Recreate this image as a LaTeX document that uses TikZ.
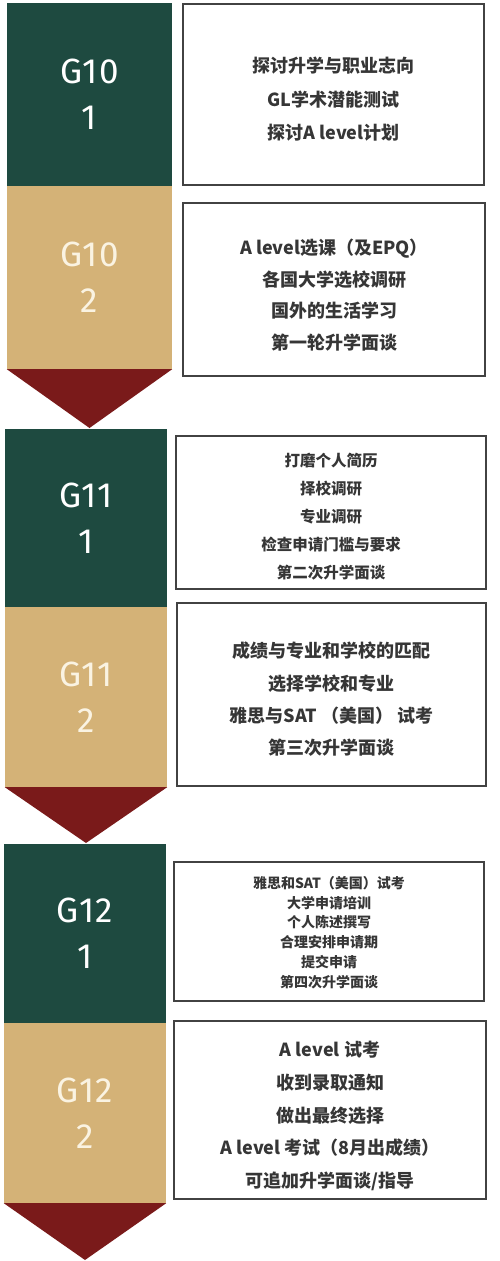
\documentclass[tikz,border=0pt]{standalone}
\usepackage{fontspec}
\setmainfont{Noto Sans CJK SC}
\newfontfamily\gradefont[LetterSpace=4]{Fira Sans}
\definecolor{termgreen}{HTML}{1E4A40}
\definecolor{termtan}{HTML}{D4B277}
\definecolor{arrowred}{HTML}{7A1A1A}
\definecolor{boxline}{HTML}{424242}
\definecolor{boxtext}{HTML}{363636}
\definecolor{cream}{HTML}{FAF3E2}

\begin{document}
\begin{tikzpicture}[x=1pt,y=-1pt]
			\tikzstyle{grade} = [rectangle,inner sep=0pt,minimum width=164pt,minimum height=181pt,align=center,font=\gradefont\fontsize{35}{46}\selectfont]
			\tikzstyle{first}  = [grade,fill=termgreen,text=white]
			\tikzstyle{second} = [grade,fill=termtan,text=cream]
			\tikzstyle{task} = [rectangle,draw=boxline,line width=2.5pt,inner sep=0pt]
			\tikzstyle{tasktext} = [inner sep=0pt,align=center,text=boxtext,font=\bfseries\fontsize{18}{33}\selectfont]
			\tikzstyle{tip} = [fill=arrowred]
			
			\useasboundingbox (0,0) rectangle (500,1261);
			
			\node[first,minimum width=165pt,minimum height=183pt] (g10a) at (89.5,94.5) {G10\\1};
			\node[second,minimum width=165pt,minimum height=183pt] (g10b) at (89.5,277.5) {G10\\2};
			\coordinate (tip10) at (89.5,428);
			
			\node[task,minimum width=301pt,minimum height=181pt] (plan10a) at (333.5,94.5) {};
			\node[tasktext,font=\bfseries\fontsize{18}{33.5}\selectfont] (plan10atext) at ([yshift=-5pt]plan10a.center) {探讨升学与职业志向\\GL学术潜能测试\\探讨A level计划};
			\node[task,minimum width=302pt,minimum height=173pt] (plan10b) at (334,289.5) {};
			\node[tasktext,font=\bfseries\fontsize{18}{31.7}\selectfont] (plan10btext) at ([yshift=-5.5pt]plan10b.center) {A level选课（及EPQ）\\各国大学选校调研\\国外的生活学习\\第一轮升学面谈};
			
			
			\node[first,minimum width=162pt,minimum height=178pt] (g11a) at (86,518) {G11\\1};
			\node[second,minimum width=162pt,minimum height=180pt] (g11b) at (86,697) {G11\\2};
			\coordinate (tip11) at (86,843);
			
			\node[task,minimum width=310pt,minimum height=153pt] (plan11a) at (331,512.5) {};
			\node[tasktext,font=\bfseries\fontsize{15.5}{28}\selectfont] (plan11atext) at ([yshift=-4pt]plan11a.center) {打磨个人简历\\择校调研\\专业调研\\检查申请门槛与要求\\第二次升学面谈};
			\node[task,minimum width=309pt,minimum height=183pt] (plan11b) at (331.5,694.5) {};
			\node[tasktext,font=\bfseries\fontsize{18}{32.3}\selectfont] (plan11btext) at ([yshift=-5pt]plan11b.center) {成绩与专业和学校的匹配\\选择学校和专业\\雅思与SAT （美国） 试考\\第三次升学面谈};
			
			
			\node[first,minimum width=162pt,minimum height=179pt] (g12a) at (85,933.5) {G12\\1};
			\node[second,minimum width=162pt,minimum height=180pt] (g12b) at (85,1113) {G12\\2};
			\coordinate (tip12) at (85,1260);
			
			\node[task,minimum width=310pt,minimum height=139pt] (plan12a) at (329,931.5) {};
			\node[tasktext,font=\bfseries\fontsize{14}{19.8}\selectfont] (plan12atext) at ([yshift=-1pt]plan12a.center) {雅思和SAT（美国）试考\\大学申请培训\\个人陈述撰写\\合理安排申请期\\提交申请\\第四次升学面谈};
			\node[task,minimum width=312pt,minimum height=178pt] (plan12b) at (330,1110) {};
			\node[tasktext,font=\bfseries\fontsize{18}{32.75}\selectfont] (plan12btext) at ([yshift=-6pt]plan12b.center) {A level 试考\\收到录取通知\\做出最终选择\\A level 考试（8月出成绩）\\可追加升学面谈/指导};
			
			
			\fill[tip] (g10b.south west) -- (g10b.south east) -- (tip10) -- cycle;
			\fill[tip] (g11b.south west) -- (g11b.south east) -- (tip11) -- cycle;
			\fill[tip] (g12b.south west) -- (g12b.south east) -- (tip12) -- cycle;
		\end{tikzpicture}
\end{document}
